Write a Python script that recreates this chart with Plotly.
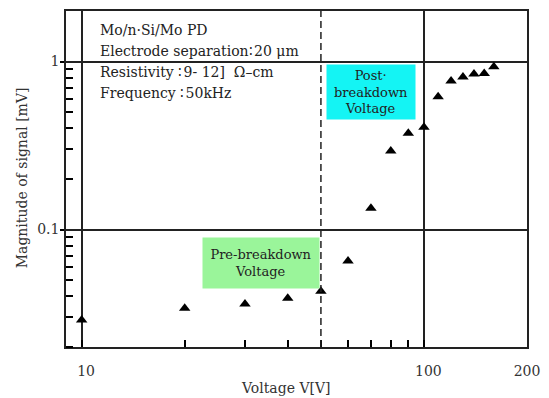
import plotly.graph_objects as go
import math

# ---- data ----
voltage = [10, 20, 30, 40, 50, 60, 70, 80, 90, 100, 110, 120, 130, 140, 150, 160]
signal = [0.029, 0.034, 0.036, 0.039, 0.043, 0.065, 0.134, 0.294, 0.375, 0.406,
          0.618, 0.767, 0.81, 0.844, 0.85, 0.93]

x_minor_ticks = [20, 30, 40, 50, 60, 70, 80, 90]
x_label_vals = [10, 100, 200]
x_label_text = ["\u00a0\u00a010", "\u00a0\u00a0100", "200"]
y_minor_ticks = [0.02, 0.03, 0.04, 0.05, 0.06, 0.07, 0.08, 0.09,
                 0.2, 0.3, 0.4, 0.5, 0.6, 0.7, 0.8, 0.9]
y_label_vals = [0.1, 1]
y_label_text = ["0.1", "1"]
x_dashed_lines = [50]
x_range = [9, 200]
y_range = [0.02, 2]

info_lines = ["Mo/n\u00b7Si/Mo PD",
              "Electrode separation\u2236\u200a20 \u03bcm",
              "Resistivity \u2236\u200a9- 12]  \u03a9\u2013cm",
              "Frequency \u2236\u200a50kHz"]

FONT = "DejaVu Serif"
L, R, T, B = 66, 530, 9, 347
W, H = 549, 398
xr = [math.log10(x_range[0]), math.log10(x_range[1])]
yr = [math.log10(y_range[0]), math.log10(y_range[1])]


def px(xp):
    return (xp - L) / (R - L)


def py(yp):
    return (B - yp) / (B - T)


fig = go.Figure()
fig.add_trace(go.Scatter(
    x=voltage, y=signal, mode="markers",
    marker=dict(symbol="triangle-up", size=10, color="black"),
    showlegend=False, hoverinfo="x+y"))

tickfont = dict(family=FONT, size=14, color="#333")

fig.update_layout(
    width=W, height=H,
    margin=dict(l=L, r=W - R, t=T, b=H - B),
    paper_bgcolor="white", plot_bgcolor="white",
    font=dict(family=FONT, size=14, color="#333"),
    xaxis=dict(type="log", range=xr, tickmode="array", tickvals=x_label_vals,
               ticktext=x_label_text, ticks="inside", ticklen=7, tickwidth=1.6,
               tickcolor="black", ticklabelstandoff=10, tickfont=tickfont,
               showgrid=True, gridcolor="#222", gridwidth=1.5,
               minor=dict(tickmode="array", tickvals=x_minor_ticks, ticks="inside",
                          ticklen=7, tickwidth=1.6, tickcolor="black", showgrid=False),
               showline=True, linecolor="#222", linewidth=1.5, mirror=True,
               zeroline=False),
    yaxis=dict(type="log", range=yr, tickmode="array", tickvals=y_label_vals,
               ticktext=y_label_text, ticks="outside", ticklen=4, tickwidth=1.5,
               tickcolor="black", ticklabelstandoff=-2, tickfont=tickfont,
               showgrid=True, gridcolor="#222", gridwidth=1.5,
               minor=dict(tickmode="array", tickvals=y_minor_ticks, ticks="inside",
                          ticklen=7, tickwidth=1.6, tickcolor="black", showgrid=False),
               showline=True, linecolor="#222", linewidth=1.5, mirror=True,
               zeroline=False),
)

shapes = []
for xv in x_dashed_lines:
    shapes.append(dict(type="line", xref="x", yref="paper", x0=xv, x1=xv, y0=0, y1=1,
                       line=dict(color="#222", width=1.5, dash="7px,4px")))
fig.update_layout(shapes=shapes)

ann = []
for i, line in enumerate(info_lines):
    ann.append(dict(text=line, xref="paper", yref="paper", x=px(98), y=py(28 + 21.3 * i),
                    xanchor="left", yanchor="middle", showarrow=False,
                    font=dict(family=FONT, size=14, color="#222")))
ann.append(dict(text="Post\u00b7<br>breakdown<br>Voltage", xref="paper", yref="paper",
                x=px(373), y=py(90), xanchor="center", yanchor="middle", showarrow=False,
                width=88, height=54, bgcolor="#14f4f4", borderpad=0,
                font=dict(family=FONT, size=13, color="#222")))
ann.append(dict(text="Pre-breakdown<br>Voltage", xref="paper", yref="paper",
                x=px(262), y=py(263), xanchor="center", yanchor="middle", showarrow=False,
                width=116, height=50, bgcolor="#9af59a", borderpad=0,
                font=dict(family=FONT, size=13, color="#222")))
ann.append(dict(text="Voltage V[V]", xref="paper", yref="paper", x=px(287), y=py(388),
                xanchor="center", yanchor="middle", showarrow=False,
                font=dict(family=FONT, size=14, color="#333")))
ann.append(dict(text="Magnitude of signal [mV]", xref="paper", yref="paper", x=px(22), y=py(177),
                xanchor="center", yanchor="middle", showarrow=False, textangle=-90,
                font=dict(family=FONT, size=14, color="#333")))
fig.update_layout(annotations=ann)

fig.write_html("out.html")
